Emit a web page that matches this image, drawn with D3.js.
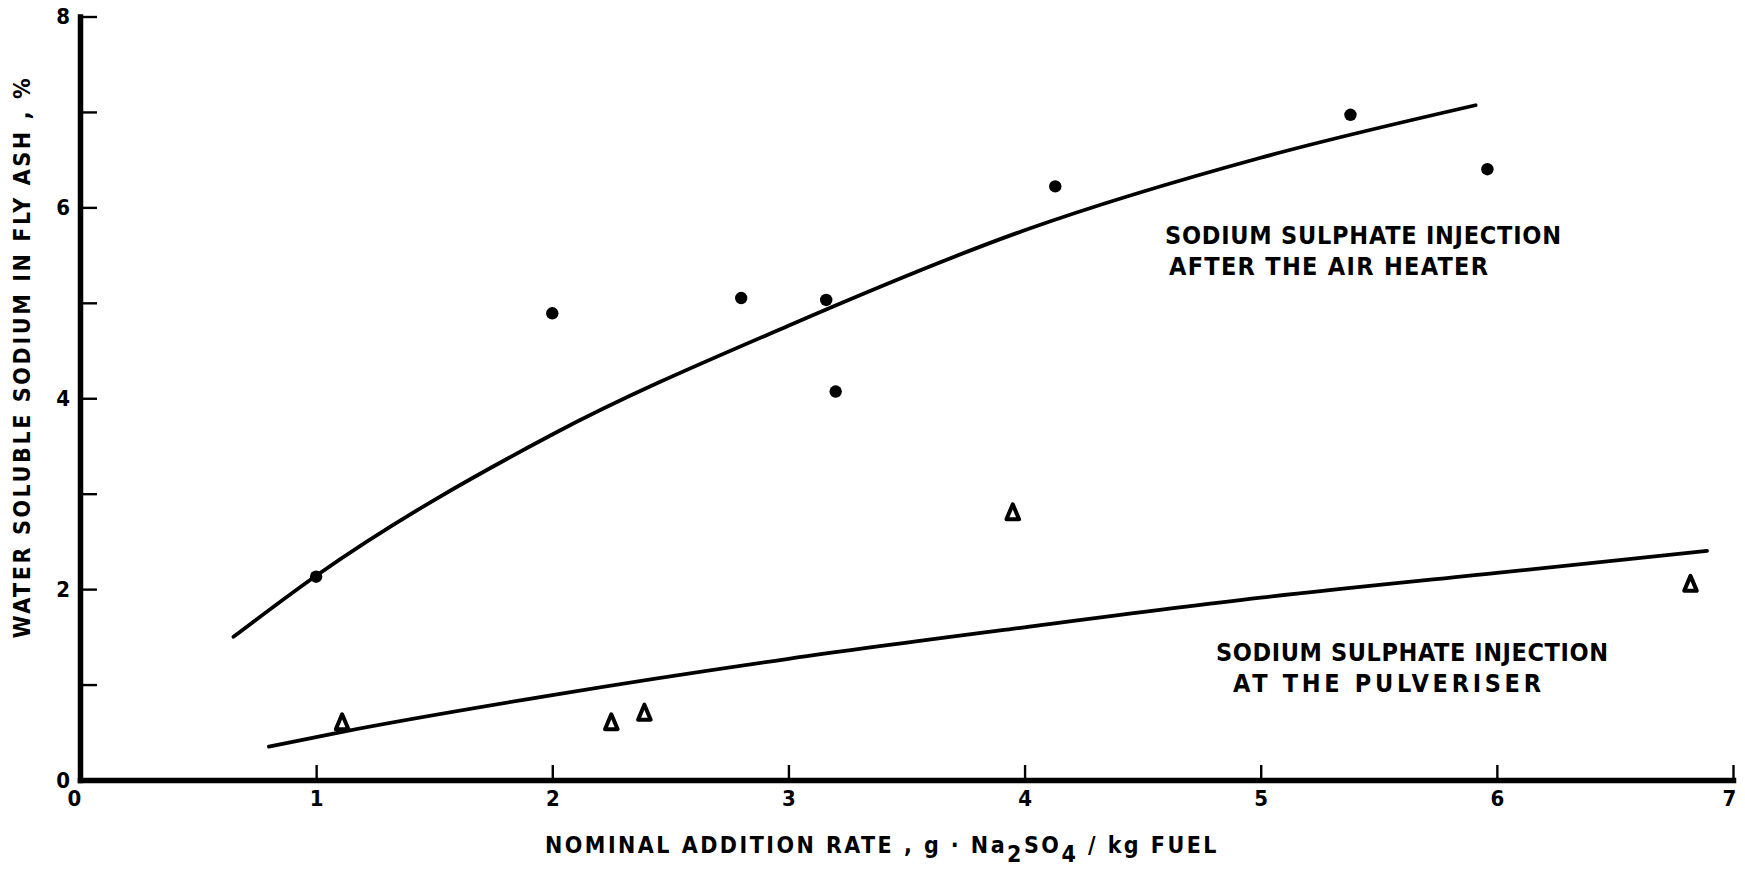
<!DOCTYPE html>
<html>
<head>
<meta charset="utf-8">
<script src="https://cdn.jsdelivr.net/npm/d3@7"></script>
<style>
  html, body { margin: 0; padding: 0; background: #fff; }
  svg { display: block; }
  text { font-family: "DejaVu Sans Condensed", "DejaVu Sans", "Liberation Sans", sans-serif; font-weight: bold; fill: #000; }
</style>
</head>
<body>
<svg id="chart" width="1745" height="872"></svg>
<script>
// Measured results: injection after the air heater (filled circles)
const airHeaterRate  = [1.00, 2.00, 2.80, 3.16, 3.20, 4.13, 5.38, 5.96];
const airHeaterNa    = [2.13, 4.89, 5.05, 5.03, 4.07, 6.22, 6.97, 6.40];

// Measured results: injection at the pulveriser (open triangles)
const pulveriserRate = [1.11, 2.25, 2.39, 3.95, 6.82];
const pulveriserNa   = [0.60, 0.60, 0.70, 2.80, 2.05];

// Hand-drawn trend curves through each set
const airHeaterCurveX  = [0.65, 1.00, 2.00, 3.00, 4.00, 5.00, 5.91];
const airHeaterCurveY  = [1.50, 2.14, 3.62, 4.76, 5.76, 6.52, 7.07];
const pulveriserCurveX = [0.80, 1.10, 2.00, 3.00, 4.00, 5.00, 6.00, 6.89];
const pulveriserCurveY = [0.35, 0.50, 0.89, 1.27, 1.60, 1.91, 2.17, 2.40];

// Axis ticks
const xTicks = [0, 1, 2, 3, 4, 5, 6, 7];
const yTicks = [0, 1, 2, 3, 4, 5, 6, 7, 8];
const yTickLabels = { 0: "0", 2: "2", 4: "4", 6: "6", 8: "8" };

const svg = d3.select("#chart");

const x = d3.scaleLinear().domain([0, 7]).range([80, 1733]);
const y = d3.scaleLinear().domain([0, 8]).range([780, 16.5]);

// Y axis: ticks point inward (to the right), labels on even values only
const yAxis = d3.axisLeft(y)
  .tickValues(yTicks)
  .tickSizeInner(-17)
  .tickSizeOuter(0)
  .tickPadding(10)
  .tickFormat(d => yTickLabels[d] || "");
const gy = svg.append("g").attr("transform", `translate(${x(0)},0)`).call(yAxis);
gy.select(".domain").attr("stroke", "#000").attr("stroke-width", 5.5).attr("stroke-linecap", "square");
gy.selectAll(".tick line").attr("stroke", "#000").attr("stroke-width", 2.4);
gy.selectAll(".tick text").attr("font-size", 22).attr("font-family", "DejaVu Sans").attr("font-weight", "bold");

// X axis: ticks point upward
const xAxis = d3.axisBottom(x)
  .tickValues(xTicks)
  .tickSizeInner(-15)
  .tickSizeOuter(0)
  .tickPadding(10)
  .tickFormat(d3.format("d"));
const gx = svg.append("g").attr("transform", `translate(0,${y(0)})`).call(xAxis);
gx.select(".domain").attr("stroke", "#000").attr("stroke-width", 5.5).attr("stroke-linecap", "square");
gx.selectAll(".tick line").attr("stroke", "#000").attr("stroke-width", 2.4);
gx.selectAll(".tick text").attr("font-size", 22).attr("font-family", "DejaVu Sans").attr("font-weight", "bold");
gx.selectAll(".tick").filter(d => d === 0).select("line").remove();
gx.selectAll(".tick").filter(d => d === 0).select("text").attr("dx", -6);
gx.selectAll(".tick").filter(d => d === 7).select("text").attr("dx", -4);

// Trend curves
const line = d3.line().x(d => x(d[0])).y(d => y(d[1])).curve(d3.curveMonotoneX);
svg.append("path")
  .datum(d3.zip(airHeaterCurveX, airHeaterCurveY))
  .attr("d", line)
  .attr("fill", "none").attr("stroke", "#000").attr("stroke-width", 3.8).attr("stroke-linecap", "round");
svg.append("path")
  .datum(d3.zip(pulveriserCurveX, pulveriserCurveY))
  .attr("d", line)
  .attr("fill", "none").attr("stroke", "#000").attr("stroke-width", 3.8).attr("stroke-linecap", "round");

// Filled circles
svg.append("g").selectAll("circle")
  .data(d3.zip(airHeaterRate, airHeaterNa))
  .join("circle")
  .attr("cx", d => x(d[0])).attr("cy", d => y(d[1]))
  .attr("r", 6.2).attr("fill", "#000");

// Open triangles
const tri = "M0,-8.5 L6.3,6.5 L-6.3,6.5 Z";
svg.append("g").selectAll("path")
  .data(d3.zip(pulveriserRate, pulveriserNa))
  .join("path")
  .attr("transform", d => `translate(${x(d[0])},${y(d[1])})`)
  .attr("d", tri)
  .attr("fill", "#fff").attr("stroke", "#000").attr("stroke-width", 4).attr("stroke-linejoin", "round");

// Text fitted to a given width by letter spacing
function fitText(sel, width) {
  const node = sel.node();
  const natural = node.getComputedTextLength();
  const n = node.textContent.length;
  sel.attr("letter-spacing", (width - natural) / Math.max(1, n - 1));
  return sel;
}

function label(str, x0, baseline, width, size) {
  const t = svg.append("text")
    .attr("x", x0).attr("y", baseline)
    .attr("font-size", size)
    .text(str);
  return fitText(t, width);
}

// Series annotations
label("SODIUM SULPHATE INJECTION", 1165, 244, 396, 25);
label("AFTER THE AIR HEATER",      1169, 275, 319, 25);
label("SODIUM SULPHATE INJECTION", 1216, 661, 392, 25);
label("AT THE PULVERISER",         1233, 692, 308, 25);

// X axis title with subscripts
const xt = svg.append("text")
  .attr("x", 545).attr("y", 853)
  .attr("font-size", 23);
xt.append("tspan").text("NOMINAL ADDITION RATE , g · Na");
xt.append("tspan").attr("dy", 9).text("2");
xt.append("tspan").attr("dy", -9).text("SO");
xt.append("tspan").attr("dy", 9).text("4");
xt.append("tspan").attr("dy", -9).text(" / kg  FUEL");
fitText(xt, 674);

// Y axis title
const yt = svg.append("text")
  .attr("transform", "translate(30,357) rotate(-90)")
  .attr("text-anchor", "middle")
  .attr("font-size", 23)
  .text("WATER  SOLUBLE  SODIUM  IN  FLY  ASH  ,   %");
fitText(yt, 581);
</script>
</body>
</html>
